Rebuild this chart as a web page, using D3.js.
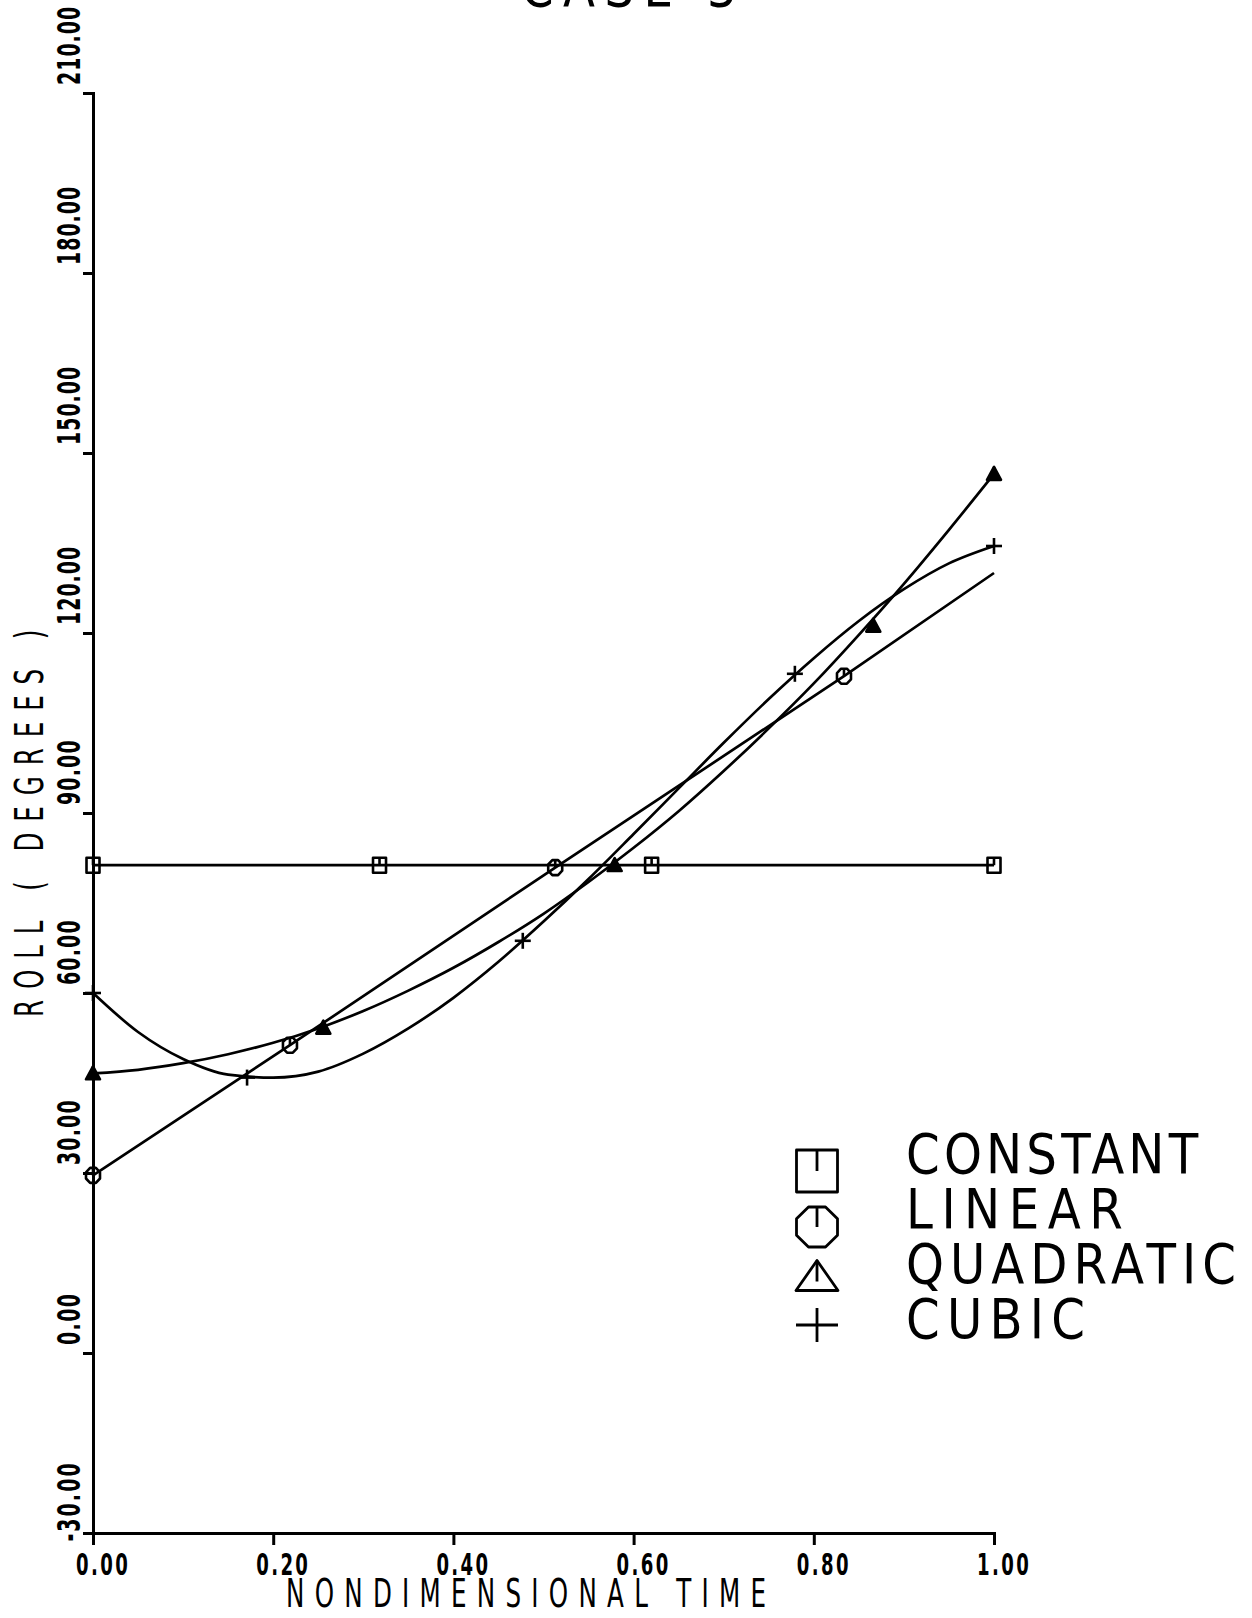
<!DOCTYPE html>
<html><head><meta charset="utf-8">
<script src="https://cdn.jsdelivr.net/npm/d3@7"></script>
<style>html,body{margin:0;padding:0;background:#fff;overflow:hidden}svg{display:block}</style>
</head><body>
<svg id="chart" width="1252" height="1618"></svg>
<script>
// ---------- data ----------
const chartTitle = "CASE 3";
const xAxisTitle = "NONDIMENSIONAL TIME";
const yAxisTitle = "ROLL ( DEGREES )";
const xTickValues = [0, 0.2, 0.4, 0.6, 0.8, 1.0];
const xTickLabels = ["0.00", "0.20", "0.40", "0.60", "0.80", "1.00"];
const yTickValues = [-30, 0, 30, 60, 90, 120, 150, 180, 210];
const yTickLabels = ["-30.00", "0.00", "30.00", "60.00", "90.00", "120.00", "150.00", "180.00", "210.00"];
const seriesNames = ["CONSTANT", "LINEAR", "QUADRATIC", "CUBIC"];
const seriesSymbols = ["square", "octagon", "triangle", "plus"];

const constantTime = [0, 1.0];
const constantRoll = [81.3, 81.3];
const linearTime = [0, 0.2186, 0.513, 0.8335, 1.0];
const linearRoll = [29.6, 51.3, 80.9, 112.8, 130.0];
const curveTime = [0, 0.05, 0.10, 0.15, 0.20, 0.25, 0.30, 0.35, 0.40, 0.45, 0.50,
                   0.55, 0.60, 0.65, 0.70, 0.75, 0.80, 0.85, 0.90, 0.95, 1.00];
const quadraticRoll = [46.6, 47.2, 48.3, 49.8, 51.7, 54.1, 57.0, 60.4, 64.2, 68.5, 73.2,
                       78.5, 84.2, 90.3, 97.0, 104.1, 111.6, 119.7, 128.2, 137.2, 146.5];
const cubicRoll = [60.0, 53.5, 49.0, 46.4, 45.9, 46.9, 49.9, 54.1, 59.2, 65.2, 71.9,
                   79.0, 86.5, 94.1, 101.7, 109.0, 115.8, 122.0, 127.3, 131.6, 134.5];

const constantMarkerTime = [0, 0.318, 0.62, 1.0];
const constantMarkerRoll = [81.3, 81.3, 81.3, 81.3];
const linearMarkerTime = [0, 0.2186, 0.513, 0.8335];
const linearMarkerRoll = [29.6, 51.3, 80.9, 112.8];
const quadraticMarkerTime = [0, 0.2556, 0.579, 0.866, 1.0];
const quadraticMarkerRoll = [46.6, 54.2, 81.3, 121.2, 146.5];
const cubicMarkerTime = [0, 0.171, 0.477, 0.779, 1.0];
const cubicMarkerRoll = [60.0, 45.9, 68.7, 113.2, 134.5];

// ---------- layout ----------
const svg = d3.select("#chart");
const x = d3.scaleLinear().domain([0, 1]).range([93, 994]);
const y = d3.scaleLinear().domain([-30, 210]).range([1533, 93]);
const FONT = "DejaVu Sans, Liberation Sans, sans-serif";
const INK = "#000";

// one text element per string: cap height H, character pitch A, glyph squeeze sx
function plotText(parent, str, o) {
  const F = o.H / 0.729;
  const span = (str.length - 0.25) * o.A;
  return parent.append("text")
    .attr("transform", `translate(${o.x},${o.y}) rotate(${o.rot || 0}) scale(${o.sx},1)`)
    .attr("font-family", FONT)
    .attr("font-size", F)
    .attr("font-weight", o.weight || "normal")
    .attr("fill", INK)
    .attr("textLength", span / o.sx)
    .attr("lengthAdjust", "spacing")
    .text(str);
}

// ---------- axes ----------
const xAxis = d3.axisBottom(x).tickValues(xTickValues).tickSize(12).tickSizeOuter(0).tickFormat("");
const yAxis = d3.axisLeft(y).tickValues(yTickValues).tickSize(10).tickSizeOuter(0).tickFormat("");
const gx = svg.append("g").attr("transform", `translate(0,${y(-30)})`).call(xAxis);
const gy = svg.append("g").attr("transform", `translate(${x(0)},0)`).call(yAxis);
[gx, gy].forEach(g => {
  g.selectAll("path,line").attr("stroke", INK).attr("stroke-width", 3);
  g.select(".domain").attr("stroke-linecap", "square");
});

// tick labels
xTickValues.forEach((v, i) => {
  plotText(svg, xTickLabels[i], { x: x(v) - 17, y: 1575, H: 22, A: 13.8, sx: 0.6, weight: "bold" });
});
yTickValues.forEach((v, i) => {
  const s = yTickLabels[i];
  const A = 13.6;
  const start = y(v) - 8 + (s[0] === "-" ? A + 3 : 0);
  plotText(svg, s, { x: 80, y: start, rot: -90, H: 23, A: A, sx: 0.6, weight: "bold" });
});

// axis titles
plotText(svg, xAxisTitle, { x: 286, y: 1607, H: 28, A: 25.6, sx: 0.64 });
plotText(svg, yAxisTitle, { x: 43, y: 1017, rot: -90, H: 28, A: 24.6, sx: 0.64 });
// chart title (cut by the top edge, as in the original plot)
plotText(svg, chartTitle, { x: 521, y: 6, H: 40, A: 37.5, sx: 0.85 });

// ---------- symbols ----------
function drawSymbol(g, type, cx, cy, w, h, filled, sw) {
  const st = { stroke: INK, "stroke-width": sw, fill: "none", "stroke-linejoin": "round" };
  const apply = (sel) => { Object.entries(st).forEach(([k, v]) => sel.attr(k, v)); return sel; };
  if (type === "square") {
    apply(g.append("rect").attr("x", cx - w / 2).attr("y", cy - h / 2).attr("width", w).attr("height", h));
    apply(g.append("line").attr("x1", cx).attr("x2", cx).attr("y1", cy - h / 2).attr("y2", cy));
  } else if (type === "octagon") {
    const pts = d3.range(8).map(k => {
      const a = Math.PI / 8 + k * Math.PI / 4;
      return [cx + (w / 2) * Math.cos(a) / Math.cos(Math.PI / 8), cy + (h / 2) * Math.sin(a) / Math.cos(Math.PI / 8)];
    });
    apply(g.append("polygon").attr("points", pts.map(p => p.join(",")).join(" ")));
    apply(g.append("line").attr("x1", cx).attr("x2", cx).attr("y1", cy - h / 2).attr("y2", cy));
  } else if (type === "triangle") {
    const pts = [[cx, cy - h * 0.55], [cx - w / 2, cy + h * 0.45], [cx + w / 2, cy + h * 0.45]];
    const p = apply(g.append("polygon").attr("points", pts.map(p => p.join(",")).join(" ")));
    if (filled) p.attr("fill", INK);
    apply(g.append("line").attr("x1", cx).attr("x2", cx).attr("y1", cy - h * 0.55).attr("y2", cy + h * 0.15));
  } else {
    apply(g.append("line").attr("x1", cx - w / 2).attr("x2", cx + w / 2).attr("y1", cy).attr("y2", cy));
    apply(g.append("line").attr("x1", cx).attr("x2", cx).attr("y1", cy - h / 2).attr("y2", cy + h / 2));
  }
}

// ---------- series ----------
const series = [
  { t: constantTime, v: constantRoll, mt: constantMarkerTime, mv: constantMarkerRoll, curve: d3.curveLinear, sym: seriesSymbols[0], w: 13, h: 15, fill: false },
  { t: linearTime, v: linearRoll, mt: linearMarkerTime, mv: linearMarkerRoll, curve: d3.curveLinear, sym: seriesSymbols[1], w: 14, h: 15, fill: false },
  { t: curveTime, v: quadraticRoll, mt: quadraticMarkerTime, mv: quadraticMarkerRoll, curve: d3.curveMonotoneX, sym: seriesSymbols[2], w: 14, h: 13, fill: true },
  { t: curveTime, v: cubicRoll, mt: cubicMarkerTime, mv: cubicMarkerRoll, curve: d3.curveMonotoneX, sym: seriesSymbols[3], w: 16, h: 16, fill: false }
];
const plot = svg.append("g");
series.forEach(s => {
  const line = d3.line().x(i => x(s.t[i])).y(i => y(s.v[i])).curve(s.curve);
  plot.append("path").attr("d", line(d3.range(s.t.length)))
    .attr("fill", "none").attr("stroke", INK).attr("stroke-width", 2.7)
    .attr("stroke-linejoin", "round");
  s.mt.forEach((t, i) => drawSymbol(plot, s.sym, x(t), y(s.mv[i]), s.w, s.h, s.fill, 2.6));
});

// ---------- legend ----------
const legendRows = [1173, 1228, 1283, 1338];
const legendSym = [
  { cy: 1171, w: 41, h: 42 },
  { cy: 1227, w: 41, h: 40 },
  { cy: 1277, w: 42, h: 30 },
  { cy: 1325, w: 42, h: 34 }
];
const lg = svg.append("g");
seriesNames.forEach((name, i) => {
  drawSymbol(lg, seriesSymbols[i], 817, legendSym[i].cy, legendSym[i].w, legendSym[i].h, false, 2.8);
  plotText(lg, name, { x: 906, y: legendRows[i], H: 40, A: 37.7, sx: 0.88 });
});
</script>
</body></html>
